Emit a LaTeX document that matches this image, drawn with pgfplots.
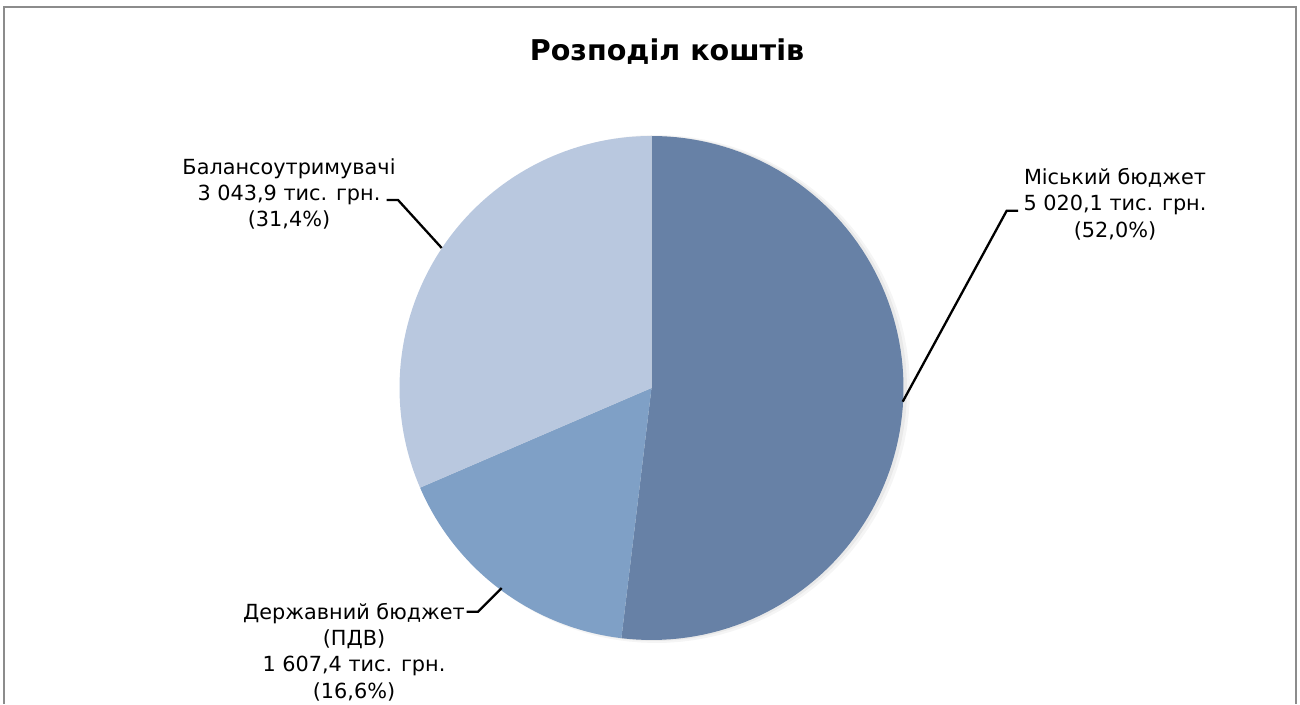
\documentclass[border=0pt]{standalone}
\usepackage{fontspec}
\setmainfont{DejaVu Sans}
\usepackage{pgfplots}
\usepackage{pgfplotstable}
\pgfplotsset{compat=1.18}
\definecolor{cMis}{HTML}{6781A6}
\definecolor{cDerz}{HTML}{7FA0C6}
\definecolor{cBal}{HTML}{B9C8DF}
\definecolor{frameG}{HTML}{8C8C8C}
\pgfplotstableread{
label value
Mis 5020.1
Derz 1607.4
Bal 3043.9
}\piedata
\begin{document}
\begin{tikzpicture}
\pgfplotstablegetelem{0}{value}\of\piedata \let\vA\pgfplotsretval
\pgfplotstablegetelem{1}{value}\of\piedata \let\vB\pgfplotsretval
\pgfplotstablegetelem{2}{value}\of\piedata \let\vC\pgfplotsretval
\pgfmathsetmacro{\tot}{\vA+\vB+\vC}
\pgfmathsetmacro{\fA}{\vA/\tot}
\pgfmathsetmacro{\fB}{\vB/\tot}
\pgfmathsetmacro{\aA}{90-360*\fA}
\pgfmathsetmacro{\aB}{\aA-360*\fB}
\begin{axis}[scale only axis, width=650pt, height=352pt,
  xmin=0, xmax=1300, ymin=0, ymax=704, hide axis, clip=false]
\path (axis cs:0,0) rectangle (axis cs:1300,704);
% frame
\draw[frameG, line width=1pt] (axis cs:4,0) -- (axis cs:4,697) -- (axis cs:1296,697) -- (axis cs:1296,0);
% title
\node[font=\fontsize{14.3}{17}\selectfont\bfseries] at (axis cs:667,652) {Розподіл коштів};
% shadow
\addplot[draw=none, fill=black, fill opacity=0.04, domain=0:360, samples=120, variable=\t]
  ({656+254*cos(\t)},{315+254*sin(\t)});
\addplot[draw=none, fill=black, fill opacity=0.05, domain=0:360, samples=120, variable=\t]
  ({654.5+252.5*cos(\t)},{315.5+252.5*sin(\t)});
% slices
\addplot[draw=none, fill=cMis, domain=\aA:90, samples=100, variable=\t]
  ({651.5+252*cos(\t)},{316+252*sin(\t)}) -- (axis cs:651.5,316) -- cycle;
\addplot[draw=none, fill=cDerz, domain=\aB:\aA, samples=40, variable=\t]
  ({651.5+252*cos(\t)},{316+252*sin(\t)}) -- (axis cs:651.5,316) -- cycle;
\addplot[draw=none, fill=cBal, domain=-270:\aB, samples=80, variable=\t]
  ({651.5+252*cos(\t)},{316+252*sin(\t)}) -- (axis cs:651.5,316) -- cycle;
% leader lines
\draw[black, line width=1.15pt] (axis cs:902.7,302.3) -- (axis cs:1006.7,493.3) -- (axis cs:1018,493.3);
\draw[black, line width=1.15pt] (axis cs:441.7,456) -- (axis cs:398,504) -- (axis cs:386.7,504);
\draw[black, line width=1.15pt] (axis cs:501.7,116) -- (axis cs:478,92.3) -- (axis cs:466.7,92.3);
% labels
\node[align=center, inner sep=0pt, font=\fontsize{10.4}{13.2}\selectfont] at (axis cs:1115,500)
  {Міський бюджет\\5 020,1 тис. грн.\\(52,0\%)};
\node[align=center, inner sep=0pt, font=\fontsize{10.4}{13.2}\selectfont] at (axis cs:289,510)
  {Балансоутримувачі\\3 043,9 тис. грн.\\(31,4\%)};
\node[align=center, inner sep=0pt, font=\fontsize{10.4}{13.2}\selectfont] at (axis cs:354,52)
  {Державний бюджет\\(ПДВ)\\1 607,4 тис. грн.\\(16,6\%)};
\end{axis}
\end{tikzpicture}
\end{document}
